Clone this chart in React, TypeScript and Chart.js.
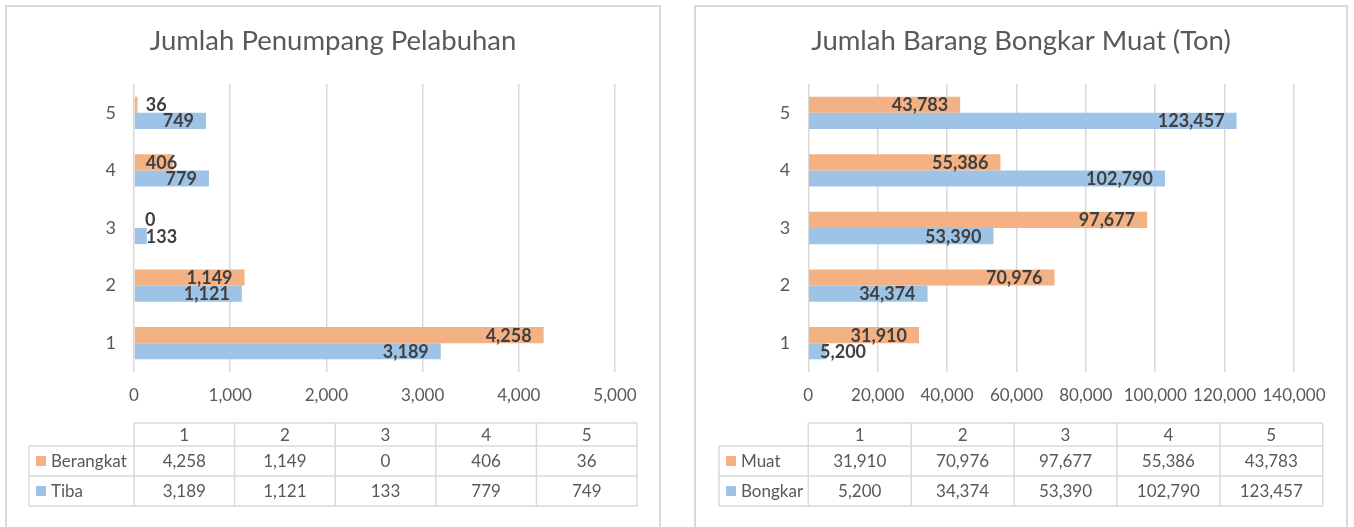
import React, { useEffect, useRef } from 'react';
import { Chart, registerables } from 'chart.js';

Chart.register(...registerables);

// ---------- data ----------
const categories = ['1', '2', '3', '4', '5'];

const penumpangTitle = 'Jumlah Penumpang Pelabuhan';
const berangkatLabel = 'Berangkat';
const berangkat = [4258, 1149, 0, 406, 36];
const tibaLabel = 'Tiba';
const tiba = [3189, 1121, 133, 779, 749];
const penumpangMax = 5000;
const penumpangStep = 1000;

const barangTitle = 'Jumlah Barang Bongkar Muat (Ton)';
const muatLabel = 'Muat';
const muat = [31910, 70976, 97677, 55386, 43783];
const bongkarLabel = 'Bongkar';
const bongkar = [5200, 34374, 53390, 102790, 123457];
const barangMax = 140000;
const barangStep = 20000;

// ---------- style ----------
const ORANGE = '#F4B183';
const BLUE = '#9DC3E6';
const GRID = '#D9D9D9';
const TEXT = '#595959';
const LABEL = '#404040';
const FONT = 'Lato, "Open Sans", sans-serif';

const CANVAS_W = 677;
const CANVAS_H = 527;

const fmt = (v: number) => v.toLocaleString('en-US');

const panelPlugin = {
  id: 'panel',
  afterDatasetsDraw(chart: any, _args: any, opts: any) {
    const ctx = chart.ctx;
    ctx.save();
    ctx.font = `bold 18px ${FONT}`;
    ctx.fillStyle = LABEL;
    ctx.textAlign = 'left';
    ctx.textBaseline = 'alphabetic';
    chart.data.datasets.forEach((ds: any, di: number) => {
      const meta = chart.getDatasetMeta(di);
      meta.data.forEach((bar: any, i: number) => {
        const v = ds.data[i];
        const p = bar.getProps(['x', 'y', 'base'], true);
        const text = fmt(v);
        const w = ctx.measureText(text).width;
        const tx = Math.max(p.base + 11, p.x - 12 - w);
        ctx.fillText(text, tx, p.y + 6.5);
      });
    });
    ctx.restore();
  },
  afterDraw(chart: any, _args: any, opts: any) {
    const ctx = chart.ctx;
    ctx.save();
    // title
    ctx.font = `27.5px ${FONT}`;
    ctx.fillStyle = TEXT;
    ctx.textAlign = 'center';
    ctx.textBaseline = 'alphabetic';
    ctx.fillText(opts.title, opts.titleX, 49.5);

    // data table
    const { legendLeft, dataLeft, dataRight } = opts;
    const rows = [423, 446, 476, 506];
    const n = chart.data.labels.length;
    const colW = (dataRight - dataLeft) / n;
    ctx.strokeStyle = GRID;
    ctx.lineWidth = 1.5;
    ctx.beginPath();
    ctx.moveTo(dataLeft, rows[0]);
    ctx.lineTo(dataRight, rows[0]);
    for (let r = 1; r < rows.length; r++) {
      ctx.moveTo(legendLeft, rows[r]);
      ctx.lineTo(dataRight, rows[r]);
    }
    ctx.moveTo(legendLeft, rows[1]);
    ctx.lineTo(legendLeft, rows[3]);
    for (let c = 0; c <= n; c++) {
      const x = dataLeft + c * colW;
      ctx.moveTo(x, rows[0]);
      ctx.lineTo(x, rows[3]);
    }
    ctx.stroke();

    ctx.font = `17px ${FONT}`;
    ctx.fillStyle = TEXT;
    ctx.textAlign = 'center';
    chart.data.labels.forEach((lab: string, c: number) => {
      ctx.fillText(lab, dataLeft + (c + 0.5) * colW, 440.5);
    });
    const baselines = [467, 497];
    chart.data.datasets.forEach((ds: any, di: number) => {
      const b = baselines[di];
      const mid = (rows[di + 1] + rows[di + 2]) / 2;
      ctx.fillStyle = ds.backgroundColor;
      ctx.fillRect(legendLeft + 7, mid - 5, 10, 10);
      ctx.fillStyle = TEXT;
      ctx.textAlign = 'left';
      ctx.fillText(ds.label, legendLeft + 22, b);
      ctx.textAlign = 'center';
      ds.data.forEach((v: number, c: number) => {
        ctx.fillText(fmt(v), dataLeft + (c + 0.5) * colW, b);
      });
    });
    ctx.restore();
  },
};

type PanelProps = {
  left: number;
  title: string;
  titleX: number;
  names: [string, string];
  first: number[];
  second: number[];
  max: number;
  step: number;
  plotLeft: number;
  plotRight: number;
  legendLeft: number;
  dataLeft: number;
  dataRight: number;
};

function Panel(props: PanelProps) {
  const ref = useRef<HTMLCanvasElement | null>(null);
  useEffect(() => {
    if (!ref.current) return;
    const yW = 40;
    const xH = 40;
    const chart = new Chart(ref.current, {
      type: 'bar',
      data: {
        labels: categories,
        datasets: [
          { label: props.names[0], data: props.first, backgroundColor: ORANGE, borderWidth: 0 },
          { label: props.names[1], data: props.second, backgroundColor: BLUE, borderWidth: 0 },
        ],
      },
      options: {
        indexAxis: 'y',
        responsive: false,
        animation: false,
        devicePixelRatio: 1,
        datasets: { bar: { categoryPercentage: 0.56, barPercentage: 1 } },
        layout: {
          padding: {
            left: props.plotLeft - yW,
            right: CANVAS_W - props.plotRight,
            top: 84,
            bottom: CANVAS_H - 372 - xH,
          },
        },
        plugins: {
          legend: { display: false },
          title: { display: false },
          tooltip: { enabled: false },
          panel: {
            title: props.title,
            titleX: props.titleX,
            legendLeft: props.legendLeft,
            dataLeft: props.dataLeft,
            dataRight: props.dataRight,
          },
        } as any,
        scales: {
          x: {
            min: 0,
            max: props.max,
            afterFit: (s: any) => { s.height = xH; },
            ticks: {
              stepSize: props.step,
              padding: 13,
              color: TEXT,
              font: { family: FONT, size: 17 },
              callback: (v: any) => fmt(Number(v)),
            },
            grid: { color: GRID, lineWidth: 1.5, drawTicks: false },
            border: { display: false },
          },
          y: {
            reverse: true,
            afterFit: (s: any) => { s.width = yW; },
            ticks: {
              padding: 18,
              color: TEXT,
              font: { family: FONT, size: 18 },
            },
            grid: { display: false, drawTicks: false },
            border: { display: false },
          },
        },
      },
      plugins: [panelPlugin],
    });
    return () => chart.destroy();
  }, []);
  return (
    <canvas
      ref={ref}
      width={CANVAS_W}
      height={CANVAS_H}
      style={{ position: 'absolute', left: props.left, top: 0, width: CANVAS_W, height: CANVAS_H }}
    />
  );
}

export default function App() {
  return (
    <div
      style={{
        position: 'absolute',
        left: 0,
        top: 0,
        width: 1354,
        height: 527,
        overflow: 'hidden',
        background: '#fff',
      }}
    >
      <div style={{ position: 'absolute', left: 5, top: 5, width: 652, height: 600, border: `2px solid ${GRID}` }} />
      <div style={{ position: 'absolute', left: 694, top: 5, width: 650, height: 600, border: `2px solid ${GRID}` }} />
      <Panel
        left={0}
        title={penumpangTitle}
        titleX={333}
        names={[berangkatLabel, tibaLabel]}
        first={berangkat}
        second={tiba}
        max={penumpangMax}
        step={penumpangStep}
        plotLeft={134}
        plotRight={615}
        legendLeft={29}
        dataLeft={134}
        dataRight={637}
      />
      <Panel
        left={677}
        title={barangTitle}
        titleX={344}
        names={[muatLabel, bongkarLabel]}
        first={muat}
        second={bongkar}
        max={barangMax}
        step={barangStep}
        plotLeft={131.3}
        plotRight={617}
        legendLeft={42}
        dataLeft={131.3}
        dataRight={645.7}
      />
    </div>
  );
}
